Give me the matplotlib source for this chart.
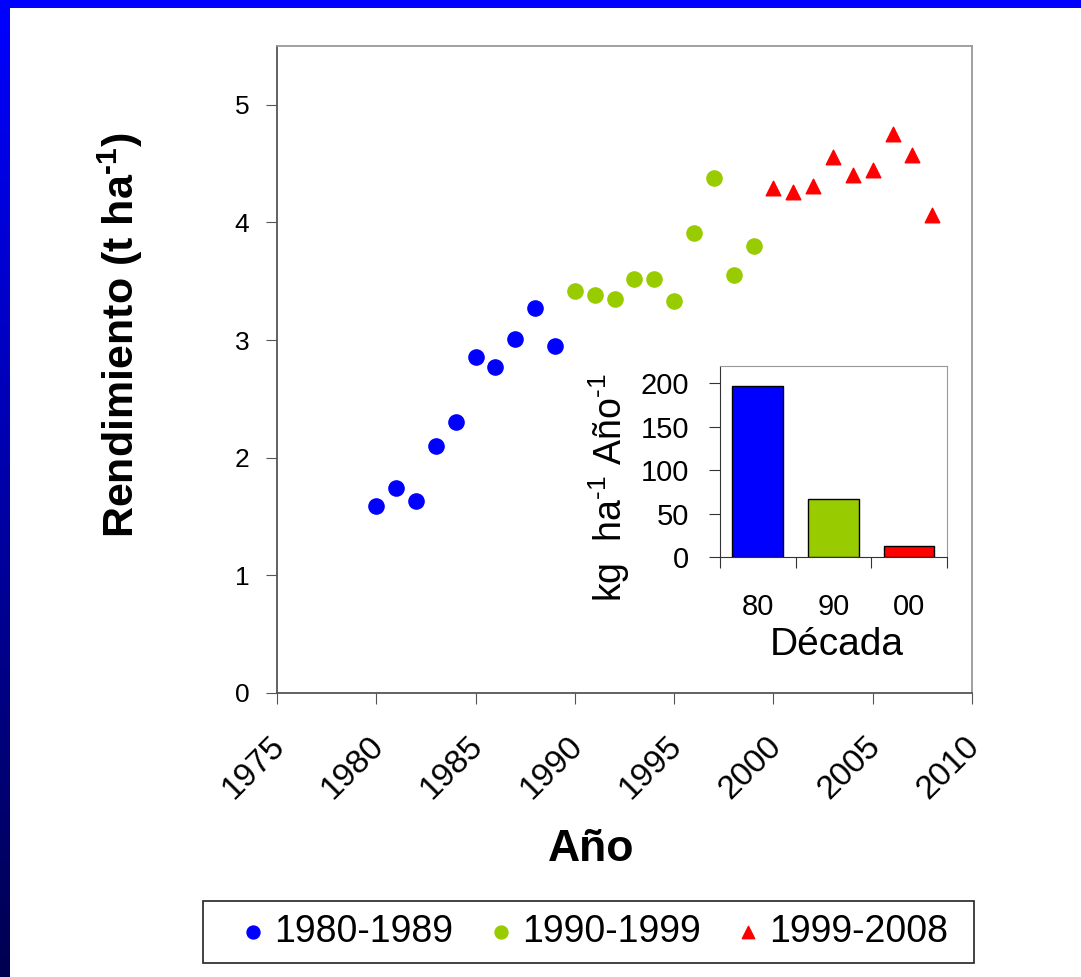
import numpy as np
import matplotlib
matplotlib.use('Agg')
import matplotlib.pyplot as plt
import matplotlib.transforms as mtransforms
from matplotlib.patches import Rectangle

plt.rcParams['font.family'] = ['Liberation Sans', 'DejaVu Sans']
plt.rcParams['mathtext.fontset'] = 'custom'
plt.rcParams['mathtext.rm'] = 'Liberation Sans'
plt.rcParams['mathtext.bf'] = 'Liberation Sans:bold'

# yield per year, three periods
years_80 = [1980, 1981, 1982, 1983, 1984, 1985, 1986, 1987, 1988, 1989]
yield_80 = [1.59, 1.74, 1.63, 2.10, 2.30, 2.86, 2.77, 3.01, 3.27, 2.95]
years_90 = [1990, 1991, 1992, 1993, 1994, 1995, 1996, 1997, 1998, 1999]
yield_90 = [3.42, 3.38, 3.35, 3.52, 3.52, 3.33, 3.91, 4.38, 3.55, 3.80]
years_00 = [2000, 2001, 2002, 2003, 2004, 2005, 2006, 2007, 2008]
yield_00 = [4.29, 4.26, 4.31, 4.56, 4.40, 4.45, 4.75, 4.57, 4.06]

# inset: rate of gain per decade
decades = ['80', '90', '00']
rates = [197, 67, 13]

blue = '#0000ff'
green = '#99cc00'
red = '#ff0000'

W, H = 1081, 977
fig = plt.figure(figsize=(W / 100, H / 100), dpi=100)
fig.patch.set_facecolor('white')

# slide border: blue band on top, gradient band on the left
top_band = fig.add_axes([0, 1 - 8 / H, 1, 8 / H])
top_band.set_facecolor(blue)
top_band.set_xticks([])
top_band.set_yticks([])
for s in top_band.spines.values():
    s.set_visible(False)

left_band = fig.add_axes([0, 0, 10 / W, 1 - 8 / H])
grad = np.linspace(1, 0, 256).reshape(-1, 1)
cmap = matplotlib.colors.LinearSegmentedColormap.from_list('bord', ['#000050', '#0000ff'])
left_band.imshow(grad, aspect='auto', cmap=cmap, vmin=0, vmax=1)
left_band.axis('off')

# main scatter
ax = fig.add_axes([0.2562, 0.2907, 0.643, 0.6622])
ax.scatter(years_80, yield_80, s=120, color=blue, marker='o', label='1980-1989', zorder=3)
ax.scatter(years_90, yield_90, s=120, color=green, marker='o', label='1990-1999', zorder=3)
ax.scatter(years_00, yield_00, s=110, color=red, marker='^', label='1999-2008', zorder=3)

ax.set_xlim(1975, 2010)
ax.set_ylim(0, 5.5)
ax.set_xticks(range(1975, 2011, 5))
ax.set_yticks(range(0, 6))
ax.tick_params(axis='x', direction='out', length=8, color='#555555', labelsize=24, pad=27)
ax.tick_params(axis='y', direction='out', length=8, color='#555555', labelsize=19, pad=12)
shift = mtransforms.ScaledTranslation(0.03, 0, fig.dpi_scale_trans)
for lab in ax.get_xticklabels():
    lab.set_rotation(45)
    lab.set_ha('right')
    lab.set_va('center')
    lab.set_rotation_mode('anchor')
    lab.set_transform(lab.get_transform() + shift)
ax.spines['left'].set_color('#555555')
ax.spines['bottom'].set_color('#555555')
ax.spines['top'].set_color('#999999')
ax.spines['right'].set_color('#999999')
for s in ax.spines.values():
    s.set_linewidth(1.3)

ax.set_xlabel('Año', fontsize=32, fontweight='bold')
ax.xaxis.set_label_coords(0.452, -0.21)
ax.set_ylabel('Rendimiento (t ha$^{\\mathregular{\u20101}}$)', fontsize=31, fontweight='bold')
ax.yaxis.set_label_coords(-0.19, 0.553)

# inset bar chart
ins = fig.add_axes([0.666, 0.4299, 0.210, 0.1955])
ins.bar(range(3), rates, width=0.67, color=[blue, green, red], edgecolor='black', linewidth=1, zorder=3)
ins.set_xlim(-0.5, 2.5)
ins.set_ylim(0, 220)
ins.set_yticks([0, 50, 100, 150, 200])
ins.set_xticks([-0.5, 0.5, 1.5, 2.5])
ins.set_xticklabels([])
ins.set_xticks(range(3), minor=True)
ins.set_xticklabels(decades, minor=True)
ins.tick_params(axis='x', which='major', direction='out', length=8, color='#333333')
ins.tick_params(axis='x', which='minor', length=0, labelsize=21, pad=26)
ins.tick_params(axis='y', direction='out', length=8, color='#333333', labelsize=21, pad=14)
ins.spines['left'].set_color('#333333')
ins.spines['bottom'].set_color('#333333')
ins.spines['top'].set_color('#999999')
ins.spines['right'].set_color('#999999')
ins.set_xlabel('Década', fontsize=28)
ins.xaxis.set_label_coords(0.515, -0.366)
ins.set_ylabel('kg  ha$^{\\mathregular{\u20101}}$ Año$^{\\mathregular{\u20101}}$', fontsize=27)
ins.yaxis.set_label_coords(-0.388, 0.36)

# legend at bottom, box drawn separately
handles, labels = ax.get_legend_handles_labels()
fig.legend(handles, labels, loc='center', bbox_to_anchor=(590.5 / W, 1 - 932 / H), ncol=3,
           fontsize=27, frameon=False, markerscale=0.85, handletextpad=0.03,
           columnspacing=0.74, borderpad=0.3, handlelength=1.07)
fig.patches.append(Rectangle((203 / W, 1 - 963 / H), 771 / W, 62 / H, transform=fig.transFigure,
                             facecolor='none', edgecolor='#222222', linewidth=1.2))

fig.savefig('out.png', dpi=100, facecolor='white')
